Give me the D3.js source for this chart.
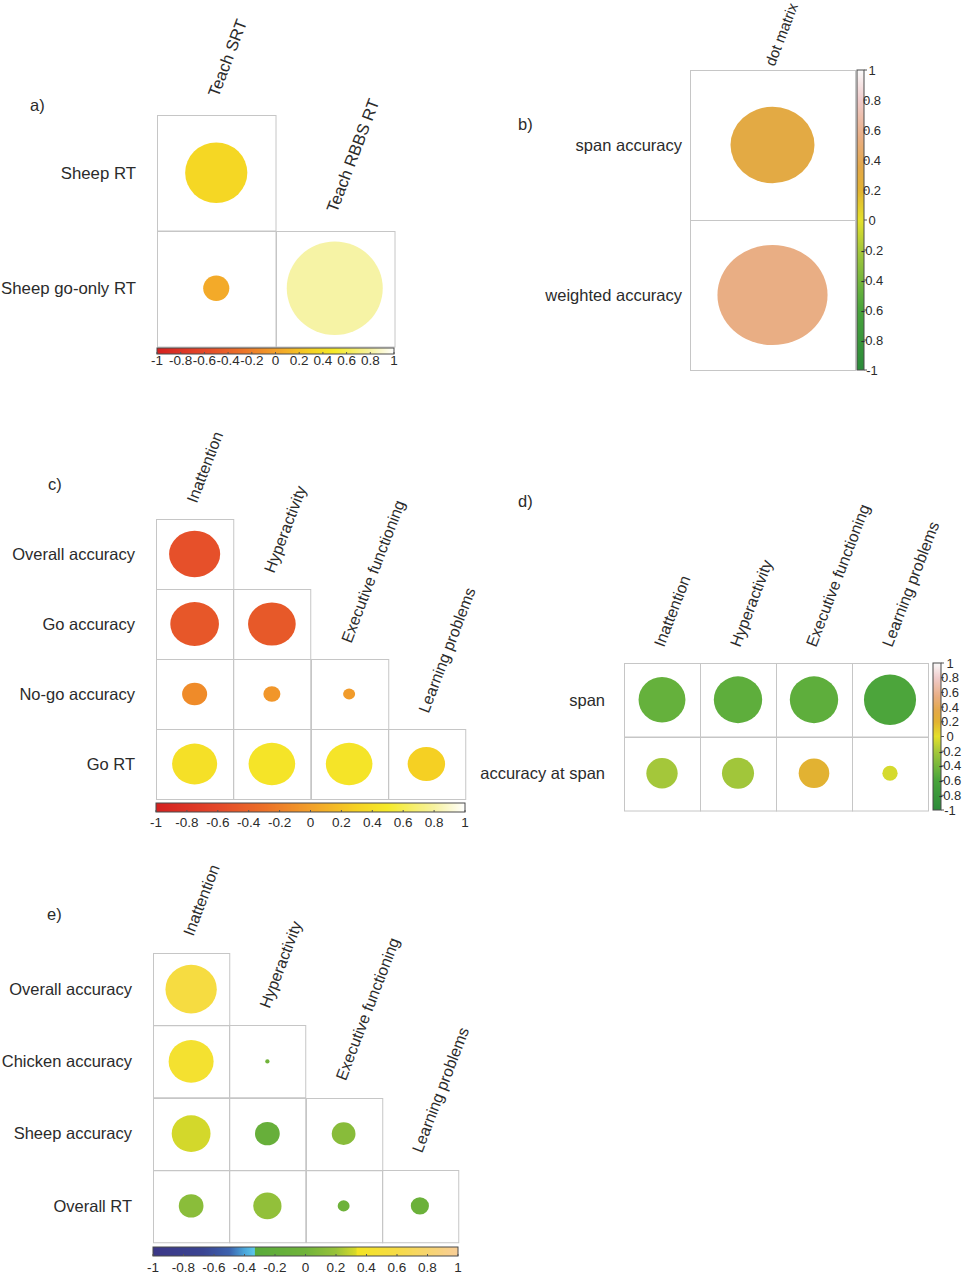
<!DOCTYPE html>
<html><head><meta charset="utf-8">
<script src="https://cdnjs.cloudflare.com/ajax/libs/d3/7.8.5/d3.min.js"></script>
<style>
body{margin:0;background:#fff}
svg{display:block}
text{font-family:"Liberation Sans",Arial,sans-serif;fill:#2b2b2b}
</style>
</head><body>
<svg id="chart" width="972" height="1280"></svg>
<script>
// ---------------- DATA ----------------
const aRows = ["Sheep RT", "Sheep go-only RT"];
const aCols = ["Teach SRT", "Teach RBBS RT"];
const aValues = [[0.34, null], [0.06, 0.81]];

const bRows = ["span accuracy", "weighted accuracy"];
const bCols = ["dot matrix"];
const bValues = [[0.32], [0.55]];

const adhdCols = ["Inattention", "Hyperactivity", "Executive functioning", "Learning problems"];

const cRows = ["Overall accuracy", "Go accuracy", "No-go accuracy", "Go RT"];
const cValues = [
  [-0.54, null, null, null],
  [-0.49, -0.47, null, null],
  [-0.13, -0.06, -0.03, null],
  [0.42, 0.45, 0.45, 0.29]
];

const dRows = ["span", "accuracy at span"];
const dValues = [
  [-0.47, -0.50, -0.50, -0.58],
  [-0.21, -0.22, 0.20, -0.05]
];

const eRows = ["Overall accuracy", "Chicken accuracy", "Sheep accuracy", "Overall RT"];
const eValues = [
  [0.56, null, null, null],
  [0.43, 0.004, null, null],
  [0.32, -0.13, 0.12, null],
  [0.13, 0.17, -0.03, -0.07]
];

const tickValues = [-1, -0.8, -0.6, -0.4, -0.2, 0, 0.2, 0.4, 0.6, 0.8, 1];

// colour palettes (value -> colour stops)
const warmStops = [[-1,"#D42020"],[-0.6,"#E4482A"],[-0.3,"#EC7028"],[0,"#F2A02A"],[0.3,"#F5D223"],[0.5,"#F5EA2A"],[0.8,"#F6F2A0"],[1,"#FFFFFF"]];
const greenPinkStops = [[-1,"#2B8A3A"],[-0.6,"#48A33B"],[-0.5,"#5EAE3C"],[-0.2,"#A6C83A"],[0,"#E4E02A"],[0.2,"#E2B232"],[0.35,"#E3A848"],[0.55,"#E9AE84"],[0.8,"#F0CCCC"],[1,"#FAFAFA"]];
const spectralStops = [[-1,"#3B3787"],[-0.67,"#3A4492"],[-0.5,"#3C62AE"],[-0.4,"#4AA6DA"],[-0.335,"#5CC6EA"],[-0.33,"#58AA3A"],[0,"#70B33A"],[0.2,"#98C23A"],[0.33,"#D8DA2A"],[0.34,"#F3E424"],[0.6,"#F6DB46"],[1,"#F8CE98"]];

// ---------------- LAYOUT ----------------
const panels = [
  {label:"a)", lx:30, ly:111, rows:aRows, cols:aCols, values:aValues, tri:true,
   x0:157, x1:394, y0:115, y1:346, stops:warmStops, rowFont:16.8, rowGap:21, colGap:17, colFont:16.5,
   bar:{orient:"h", x0:157, x1:394, y0:348, y1:354, ty:364.5}},
  {label:"b)", lx:518, ly:130, rows:bRows, cols:bCols, values:bValues, tri:false,
   x0:690, x1:855, y0:70, y1:370, stops:greenPinkStops, rowFont:16.5, rowGap:8, colGap:3, colFont:15,
   bar:{orient:"v", x0:857, x1:864, y0:70, y1:370, tx:872}},
  {label:"c)", lx:48, ly:490, rows:cRows, cols:adhdCols, values:cValues, tri:true,
   x0:156, x1:465, y0:519, y1:799, stops:warmStops, rowFont:16.5, rowGap:21, colGap:15, colFont:16,
   bar:{orient:"h", x0:156, x1:465, y0:803, y1:812, ty:826.5}},
  {label:"d)", lx:518, ly:507, rows:dRows, cols:adhdCols, values:dValues, tri:false,
   x0:624, x1:928, y0:663, y1:810, stops:greenPinkStops, rowFont:16.5, rowGap:19, colGap:15, colFont:16,
   bar:{orient:"v", x0:933, x1:941, y0:663, y1:810, tx:950}},
  {label:"e)", lx:47, ly:920, rows:eRows, cols:adhdCols, values:eValues, tri:true,
   x0:153, x1:458, y0:953, y1:1242, stops:spectralStops, rowFont:16.5, rowGap:21, colGap:16, colFont:16,
   bar:{orient:"h", x0:153, x1:458, y0:1247, y1:1256, ty:1271.5}}
];

const svg = d3.select("#chart");
const defs = svg.append("defs");
const fmt = v => String(Math.round(v * 10) / 10);

panels.forEach((p, pi) => {
  const g = svg.append("g");
  const x = d3.scaleBand().domain(p.cols).range([p.x0, p.x1]);
  const y = d3.scaleBand().domain(p.rows).range([p.y0, p.y1]);
  const color = d3.scaleLinear().domain(p.stops.map(d => d[0])).range(p.stops.map(d => d[1])).clamp(true);
  const rx = d3.scaleSqrt().domain([0, 1]).range([0, 0.45 * x.bandwidth()]);
  const ry = d3.scaleSqrt().domain([0, 1]).range([0, 0.45 * y.bandwidth()]);

  const cells = [];
  p.rows.forEach((r, i) => p.cols.forEach((c, j) => {
    if (!p.tri || j <= i) cells.push({r, c, i, j, v: p.values[i][j]});
  }));

  // panel letter
  g.append("text").attr("x", p.lx).attr("y", p.ly).attr("font-size", 16.5).text(p.label);

  // cells
  g.selectAll("rect.cell").data(cells).join("rect").attr("class", "cell")
    .attr("x", d => Math.round(x(d.c)) + 0.5)
    .attr("y", d => Math.round(y(d.r)) + 0.5)
    .attr("width", x.bandwidth())
    .attr("height", y.bandwidth())
    .attr("fill", "none").attr("stroke", "#c6c6c6").attr("stroke-width", 1);

  // circles
  g.selectAll("ellipse").data(cells.filter(d => d.v !== null)).join("ellipse")
    .attr("cx", d => x(d.c) + x.bandwidth() / 2)
    .attr("cy", d => y(d.r) + y.bandwidth() / 2)
    .attr("rx", d => rx(Math.abs(d.v)))
    .attr("ry", d => ry(Math.abs(d.v)))
    .attr("fill", d => color(d.v));

  // row labels
  g.selectAll("text.row").data(p.rows).join("text").attr("class", "row")
    .attr("x", p.x0 - p.rowGap)
    .attr("y", d => y(d) + y.bandwidth() / 2)
    .attr("dy", "0.35em")
    .attr("text-anchor", "end")
    .attr("font-size", p.rowFont)
    .text(d => d);

  // column labels (rotated)
  g.selectAll("text.col").data(p.cols).join("text").attr("class", "col")
    .attr("transform", (d, j) => {
      const top = p.tri ? y(p.rows[j]) : p.y0;
      const cx = x(d) + x.bandwidth() / 2 + 2;
      return `translate(${cx},${top - p.colGap}) rotate(-69)`;
    })
    .attr("font-size", p.colFont)
    .text(d => d);

  // colour bar
  const b = p.bar;
  const gid = "grad" + pi;
  const grad = defs.append("linearGradient").attr("id", gid)
    .attr("x1", 0).attr("y1", b.orient === "h" ? 0 : 1)
    .attr("x2", b.orient === "h" ? 1 : 0).attr("y2", 0);
  d3.range(0, 401).forEach(k => {
    const t = -1 + k / 200;
    grad.append("stop").attr("offset", (k / 400)).attr("stop-color", color(t));
  });
  g.append("rect").attr("x", b.x0).attr("y", b.y0)
    .attr("width", b.x1 - b.x0).attr("height", b.y1 - b.y0)
    .attr("fill", `url(#${gid})`).attr("stroke", "#4a4a4a").attr("stroke-width", 1);

  if (b.orient === "h") {
    const s = d3.scaleLinear().domain([-1, 1]).range([b.x0, b.x1]);
    g.selectAll("line.tk").data(tickValues).join("line").attr("class", "tk")
      .attr("x1", d => s(d)).attr("x2", d => s(d))
      .attr("y1", b.y1 - 2).attr("y2", b.y1)
      .attr("stroke", "#555").attr("stroke-width", 1);
    g.selectAll("text.tl").data(tickValues).join("text").attr("class", "tl")
      .attr("x", d => s(d)).attr("y", b.ty)
      .attr("text-anchor", "middle").attr("font-size", 13.5)
      .text(fmt);
  } else {
    const s = d3.scaleLinear().domain([-1, 1]).range([b.y1, b.y0]);
    g.selectAll("line.tk").data(tickValues).join("line").attr("class", "tk")
      .attr("x1", b.x1).attr("x2", b.x1 + 3)
      .attr("y1", d => s(d)).attr("y2", d => s(d))
      .attr("stroke", "#555").attr("stroke-width", 1);
    g.selectAll("text.tl").data(tickValues).join("text").attr("class", "tl")
      .attr("x", b.tx).attr("y", d => s(d)).attr("dy", "0.35em")
      .attr("text-anchor", "middle").attr("font-size", 13)
      .text(fmt);
  }
});
</script>
</body></html>
